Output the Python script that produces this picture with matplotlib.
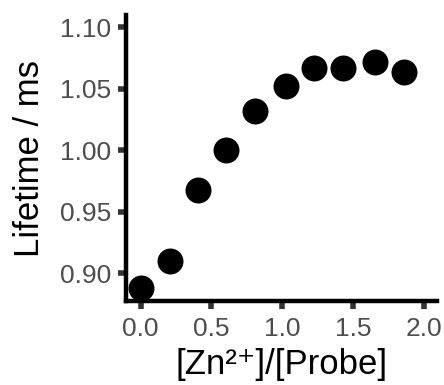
import numpy as np
import matplotlib.pyplot as plt

# ratio of zinc to probe, and measured lifetime (ms)
ratio = [0.0, 0.205, 0.405, 0.605, 0.805, 1.03, 1.227, 1.43, 1.656, 1.859]
lifetime = [0.888, 0.910, 0.9675, 1.000, 1.032, 1.0525, 1.067, 1.067, 1.072, 1.064]
xticks = [0.0, 0.5, 1.0, 1.5, 2.0]
yticks = [0.90, 0.95, 1.00, 1.05, 1.10]

plt.rcParams['font.family'] = ['Liberation Sans', 'DejaVu Sans']

fig = plt.figure(figsize=(4.44, 3.85), dpi=100)
ax = fig.add_axes([0.2842, 0.2169, 0.700, 0.744])

ax.scatter(ratio, lifetime, s=350, c='black', linewidths=0, zorder=2)

ax.set_xlim(-0.1025, 2.094)
ax.set_ylim(0.877, 1.11)
ax.set_xticks(xticks)
ax.set_xticklabels(['%.1f' % v for v in xticks])
ax.set_yticks(yticks)
ax.set_yticklabels(['%.2f' % v for v in yticks])

for side in ['top', 'right']:
    ax.spines[side].set_visible(False)
for side in ['left', 'bottom']:
    ax.spines[side].set_linewidth(3.2)
    ax.spines[side].set_color('black')
    ax.spines[side].set_zorder(3)

ax.tick_params(axis='both', length=6, width=4, color='#333333',
               labelsize=19, labelcolor='#4D4D4D', pad=5)

ax.set_xlabel('[Zn²⁺]/[Probe]', fontsize=25, color='black', labelpad=5)
ax.set_ylabel('Lifetime / ms', fontsize=25, color='black', labelpad=10)

fig.savefig('out.png', dpi=100)
